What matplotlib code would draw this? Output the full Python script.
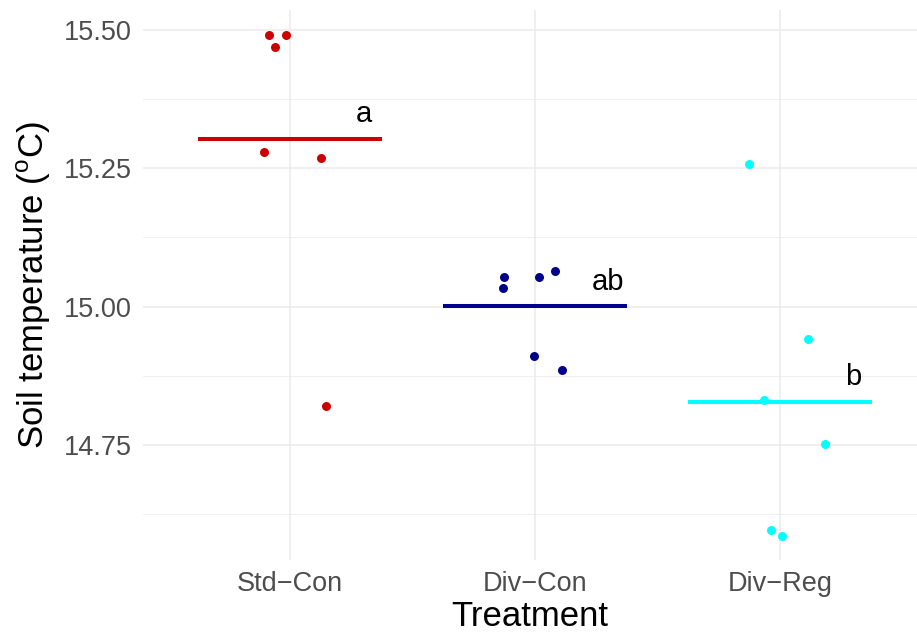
import matplotlib

matplotlib.use("Agg")
import matplotlib.pyplot as plt
import numpy as np

plt.rcParams["font.family"] = ["Liberation Sans", "DejaVu Sans"]
plt.rcParams["mathtext.fontset"] = "custom"
plt.rcParams["mathtext.rm"] = "Liberation Sans"

treatments = ["Std\u2212Con", "Div\u2212Con", "Div\u2212Reg"]
colors = ["#CD0000", "#00008B", "#00FFFF"]
letters = ["a", "ab", "b"]

# soil temperature per plot (°C) and horizontal jitter used in the figure
std_con = [15.491, 15.491, 15.469, 15.279, 15.268, 14.821]
std_con_jitter = [-0.086, -0.016, -0.061, -0.106, 0.127, 0.147]
div_con = [15.054, 15.033, 15.054, 15.065, 14.910, 14.886]
div_con_jitter = [-0.127, -0.131, 0.016, 0.082, -0.004, 0.110]
div_reg = [15.257, 14.942, 14.832, 14.752, 14.597, 14.586]
div_reg_jitter = [-0.127, 0.114, -0.065, 0.184, -0.037, 0.008]

groups = [std_con, div_con, div_reg]
jitters = [std_con_jitter, div_con_jitter, div_reg_jitter]

fig = plt.figure(figsize=(9.17, 6.32), dpi=100)
ax = fig.add_axes([143 / 917, 72 / 632, 774 / 917, 550 / 632])

ax.set_yticks([14.75, 15.00, 15.25, 15.50])
ax.set_yticks([14.625, 14.875, 15.125, 15.375], minor=True)
ax.set_xticks([1, 2, 3])
ax.grid(which="major", color="#EBEBEB", linewidth=1.1)
ax.grid(which="minor", axis="y", color="#EBEBEB", linewidth=0.55)
ax.set_axisbelow(True)

for i, (vals, jit, col, lab) in enumerate(zip(groups, jitters, colors, letters)):
    pos = i + 1
    ax.scatter(pos + np.array(jit), vals, s=42, color=col, linewidths=0, zorder=3)
    m = np.mean(vals)
    ax.plot([pos - 0.375, pos + 0.375], [m, m], color=col, linewidth=2.9, zorder=2,
            solid_capstyle="butt")
    ax.text(pos + 0.3, m + 0.03, lab, ha="center", va="baseline", fontsize=21, color="black")

ax.set_xlim(0.4, 3.56)
ax.set_ylim(14.542, 15.536)
ax.set_xticklabels(treatments)
ax.set_yticklabels(["14.75", "15.00", "15.25", "15.50"])
ax.tick_params(which="both", length=0, labelsize=19.5, labelcolor="#4D4D4D")
ax.tick_params(axis="x", pad=8)
ax.tick_params(axis="y", pad=8)
for s in ax.spines.values():
    s.set_visible(False)

ax.set_xlabel("Treatment", fontsize=25, labelpad=2)
ax.set_ylabel("Soil temperature ($^{\\mathrm{o}}$C)", fontsize=25, labelpad=8)

fig.savefig("out.png", dpi=100)
plt.close(fig)
